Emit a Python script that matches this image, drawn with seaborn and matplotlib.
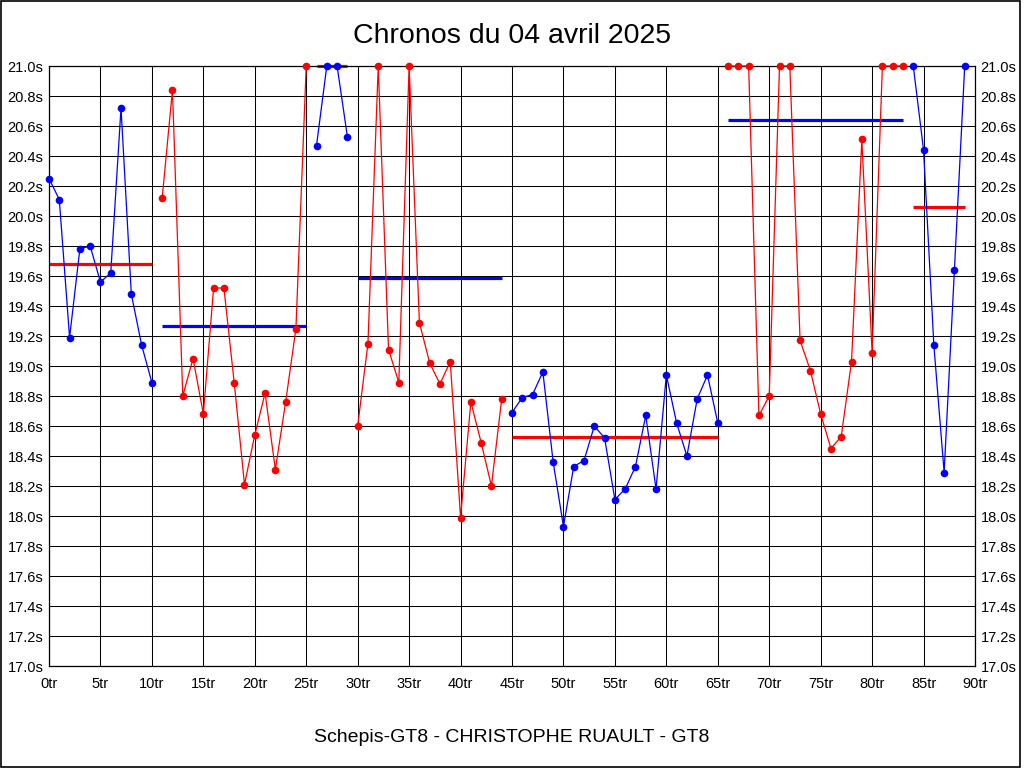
"""
Lap time chart: Chronos du 04 avril 2025 (one line per stint, stint average as a bar).
"""
import numpy as np
import pandas as pd
import matplotlib
matplotlib.use("Agg")
import matplotlib.pyplot as plt
from matplotlib.patches import Rectangle
import seaborn as sns

# 1. Lap times in seconds (values above 21.0s are shown capped at the top)
lap_times = [
    20.25, 20.11, 19.19, 19.78, 19.80, 19.56, 19.62, 20.72, 19.48, 19.14,
    18.89, 20.12, 20.84, 18.80, 19.05, 18.68, 19.52, 19.52, 18.89, 18.21,
    18.54, 18.82, 18.31, 18.76, 19.25, 21.00, 20.47, 21.00, 21.00, 20.53,
    18.60, 19.15, 21.00, 19.11, 18.89, 21.00, 19.29, 19.02, 18.88, 19.03,
    17.99, 18.76, 18.49, 18.20, 18.78, 18.69, 18.79, 18.81, 18.96, 18.36,
    17.93, 18.33, 18.37, 18.60, 18.52, 18.11, 18.18, 18.33, 18.67, 18.18,
    18.94, 18.62, 18.40, 18.78, 18.94, 18.62, 21.00, 21.00, 21.00, 18.67,
    18.80, 21.00, 21.00, 19.17, 18.97, 18.68, 18.45, 18.53, 19.03, 20.51,
    19.09, 21.00, 21.00, 21.00, 21.00, 20.44, 19.14, 18.29, 19.64, 21.00,
]

# 2. Stints: first and last lap, line colour, and stint average
stint_first = [0, 11, 26, 30, 45, 66, 84]
stint_last = [10, 25, 29, 44, 65, 83, 89]
stint_colors = ["blue", "red", "blue", "red", "blue", "red", "blue"]
avg_colors = ["red", "blue", "red", "blue", "red", "blue", "red"]
stint_avg = [19.68, 19.27, 21.00, 19.59, 18.53, 20.64, 20.06]

y_ticks = np.round(np.arange(17.0, 21.01, 0.2), 1)
x_ticks = np.arange(0, 91, 5)

laps = np.arange(len(lap_times))
stint_id = np.zeros(len(lap_times), dtype=int)
for i, (a, b) in enumerate(zip(stint_first, stint_last)):
    stint_id[a:b + 1] = i
df = pd.DataFrame({"lap": laps, "time": lap_times, "stint": stint_id})

sns.set_theme(style="white")
plt.rcParams["font.family"] = ["Liberation Sans", "DejaVu Sans"]
plt.rcParams["text.color"] = "black"

fig = plt.figure(figsize=(10.24, 7.68), dpi=100)
ax = fig.add_axes([49 / 1024, 102 / 768, 926 / 1024, 600 / 768])

# 3. Grid under everything
for x in x_ticks:
    ax.axvline(x, color="black", lw=0.75, zorder=0)
for y in y_ticks:
    ax.axhline(y, color="black", lw=0.75, zorder=0)

# 4. Lap time lines, one per stint
sns.lineplot(data=df, x="lap", y="time", hue="stint", palette=stint_colors,
             estimator=None, marker="o", markersize=5.5, markeredgewidth=0,
             linewidth=0.9, legend=False, ax=ax, zorder=3)
for line in ax.get_lines()[-len(stint_first):]:
    line.set_clip_on(False)

# 5. Stint averages
ax.hlines(stint_avg, stint_first, stint_last, colors=avg_colors, lw=2.3,
          zorder=2, clip_on=False)

ax.set_xlim(0, 90)
ax.set_ylim(17.0, 21.0)
ax.set_xticks(x_ticks)
ax.set_xticklabels([f"{x}tr" for x in x_ticks])
ax.set_yticks(y_ticks)
ax.set_yticklabels([f"{y:.1f}s" for y in y_ticks])
ax.tick_params(axis="both", length=0, labelsize=10.5, colors="black",
               labelcolor="black")
ax.tick_params(axis="x", pad=8)
ax.tick_params(axis="y", pad=4, labelright=True)
ax.set_xlabel("")
ax.set_ylabel("")
for s in ax.spines.values():
    s.set_color("black")
    s.set_linewidth(0.9)

fig.text(0.5, 1 - 36 / 768, "Chronos du 04 avril 2025", ha="center", va="center",
         fontsize=20.5, color="black")
fig.text(0.5, 1 - 737 / 768, "Schepis-GT8 - CHRISTOPHE RUAULT - GT8", ha="center",
         va="center", fontsize=14, color="black")

# 6. Frame around the whole picture
fig.patches.append(Rectangle((0.5 / 1024, 1.5 / 768), 1019 / 1024, 766 / 768,
                             transform=fig.transFigure, fill=False,
                             edgecolor="black", lw=1.2))

fig.savefig("out.png", dpi=100)
